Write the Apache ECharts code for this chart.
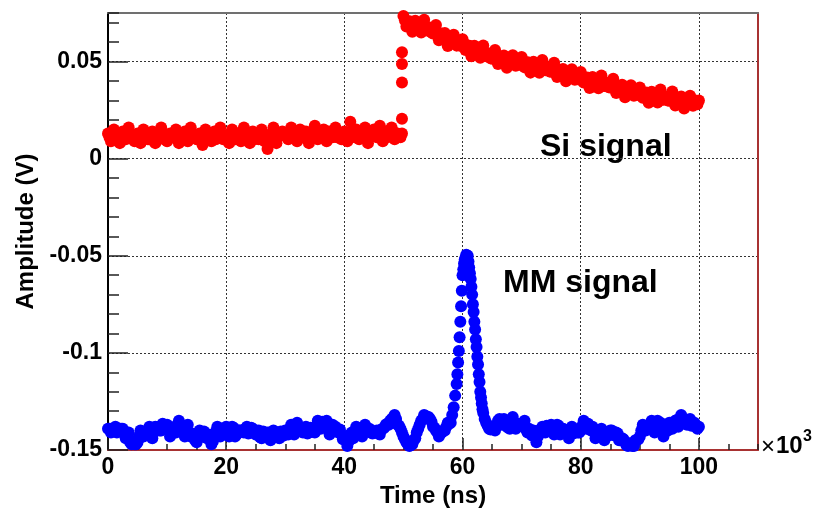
<!DOCTYPE html>
<html><head><meta charset="utf-8">
<script src="https://cdn.jsdelivr.net/npm/echarts@6/dist/echarts.min.js"></script>
<style>html,body{margin:0;padding:0;background:#fff}#c{width:821px;height:513px}</style>
</head><body><div id="c"></div>
<script>
// sample step of the waveforms, in units of 10^3 ns
const sampleStep = 0.5;

// Si signal amplitude (V), samples at t = 0, 0.5, ... 100 (x10^3 ns)
const siAmp = [
 0.013,0.009,0.015,0.011,0.008,0.014,0.010,0.016,0.012,0.009,0.013,0.008,0.015,0.011,0.010,0.014,0.008,0.012,0.016,0.010,
 0.009,0.013,0.011,0.015,0.008,0.012,0.014,0.009,0.016,0.011,0.010,0.013,0.007,0.015,0.012,0.009,0.014,0.011,0.016,0.010,
 0.012,0.008,0.015,0.010,0.013,0.009,0.016,0.011,0.008,0.014,0.012,0.010,0.015,0.009,0.005,0.011,0.016,0.008,0.012,0.014,
 0.013,0.010,0.016,0.012,0.009,0.015,0.011,0.014,0.008,0.013,0.017,0.010,0.012,0.015,0.009,0.014,0.011,0.016,0.012,0.010,
 0.014,0.009,0.019,0.012,0.015,0.010,0.013,0.016,0.008,0.012,0.015,0.011,0.017,0.009,0.014,0.012,0.016,0.010,0.013,0.011,
 0.0735,0.0681,0.0707,0.0654,0.0710,0.0685,0.0650,0.0715,0.0660,0.0663,
 0.0645,0.0688,0.0610,0.0633,0.0647,0.0580,0.0624,0.0638,0.0582,0.0594,
 0.0615,0.0559,0.0583,0.0527,0.0581,0.0555,0.0519,0.0583,0.0527,0.0530,
 0.0514,0.0560,0.0487,0.0514,0.0531,0.0468,0.0515,0.0532,0.0479,0.0496,
 0.0523,0.0470,0.0496,0.0443,0.0499,0.0475,0.0442,0.0508,0.0455,0.0461,
 0.0448,0.0494,0.0420,0.0446,0.0462,0.0398,0.0444,0.0460,0.0406,0.0421,
 0.0446,0.0392,0.0418,0.0364,0.0420,0.0396,0.0362,0.0428,0.0374,0.0380,
 0.0366,0.0412,0.0338,0.0364,0.0380,0.0316,0.0362,0.0378,0.0324,0.0340,
 0.0367,0.0314,0.0341,0.0288,0.0345,0.0322,0.0289,0.0356,0.0303,0.0310,
 0.0298,0.0346,0.0274,0.0302,0.0320,0.0258,0.0306,0.0324,0.0272,0.0290,
 0.0300
];
// Si signal, in-between samples at t = 0.25, 0.75, ... 99.75
const siAmpMid = [
 0.011,0.012,0.010,0.013,0.011,0.012,0.013,0.011,0.010,0.012,0.011,0.013,0.012,0.010,0.012,0.011,0.013,0.012,0.011,0.012,
 0.012,0.011,0.013,0.010,0.012,0.011,0.012,0.013,0.011,0.012,0.010,0.012,0.011,0.013,0.011,0.012,0.010,0.013,0.012,0.011,
 0.011,0.012,0.010,0.013,0.011,0.012,0.011,0.013,0.012,0.010,0.012,0.011,0.013,0.011,0.012,0.010,0.012,0.011,0.013,0.012,
 0.012,0.013,0.011,0.012,0.014,0.011,0.013,0.012,0.011,0.013,0.012,0.014,0.012,0.011,0.013,0.012,0.014,0.011,0.013,0.012,
 0.013,0.012,0.014,0.011,0.013,0.012,0.014,0.012,0.011,0.013,0.012,0.014,0.012,0.013,0.011,0.014,0.012,0.013,0.012,0.013,
 0.0713,0.0689,0.0705,0.0682,0.0697,0.0672,0.0687,0.0662,0.0676,0.0650,
 0.0661,0.0634,0.0646,0.0620,0.0633,0.0607,0.0621,0.0595,0.0608,0.0580,
 0.0592,0.0566,0.0580,0.0554,0.0568,0.0542,0.0556,0.0530,0.0543,0.0517,
 0.0532,0.0508,0.0525,0.0502,0.0519,0.0496,0.0513,0.0490,0.0507,0.0484,
 0.0501,0.0478,0.0494,0.0471,0.0487,0.0463,0.0480,0.0456,0.0473,0.0449,
 0.0466,0.0442,0.0458,0.0434,0.0450,0.0426,0.0442,0.0418,0.0433,0.0408,
 0.0424,0.0400,0.0416,0.0392,0.0408,0.0384,0.0400,0.0376,0.0392,0.0368,
 0.0384,0.0360,0.0376,0.0352,0.0368,0.0344,0.0360,0.0336,0.0352,0.0328,
 0.0345,0.0322,0.0339,0.0316,0.0333,0.0310,0.0327,0.0304,0.0321,0.0299,
 0.0317,0.0295,0.0313,0.0291,0.0309,0.0287,0.0305,0.0283,0.0301,0.0280
];
// points on the fast rising edge of the Si signal
const siRiseTime = [49.75, 49.75, 49.75, 49.75];
const siRiseAmp  = [0.0205, 0.0392, 0.0487, 0.0548];

// MM signal amplitude (V), samples at t = 0, 0.5, ... 100 (x10^3 ns)
const mmAmp = [
 -0.139,-0.141,-0.139,-0.141,-0.139,-0.139,-0.144,-0.141,-0.147,-0.147,
 -0.146,-0.140,-0.143,-0.142,-0.138,-0.144,-0.138,-0.138,-0.140,-0.137,
 -0.137,-0.143,-0.139,-0.141,-0.135,-0.139,-0.143,-0.137,-0.143,-0.143,
 -0.146,-0.140,-0.143,-0.142,-0.142,-0.147,-0.142,-0.138,-0.143,-0.139,
 -0.138,-0.143,-0.138,-0.143,-0.140,-0.140,-0.141,-0.138,-0.141,-0.139,
 -0.142,-0.140,-0.144,-0.141,-0.141,-0.145,-0.140,-0.141,-0.144,-0.141,
 -0.140,-0.142,-0.137,-0.142,-0.136,-0.140,-0.141,-0.138,-0.141,-0.139,
 -0.141,-0.135,-0.139,-0.136,-0.135,-0.142,-0.137,-0.138,-0.141,-0.142,
 -0.143,-0.148,-0.142,-0.144,-0.138,-0.139,-0.143,-0.137,-0.140,-0.141,
 -0.141,-0.140,-0.142,-0.139,-0.137,-0.137,-0.134,-0.132,-0.137,-0.139,
 -0.143,-0.146,-0.148,-0.147,-0.144,-0.139,-0.135,-0.132,-0.133,-0.134,
 -0.138,-0.140,-0.143,-0.141,-0.140,-0.136,-0.136,-0.128,-0.116,-0.092,
 -0.060,-0.051,-0.053,-0.066,-0.084,-0.102,-0.120,-0.131,-0.136,-0.139,
 -0.138,-0.140,-0.135,-0.137,-0.134,-0.138,-0.139,-0.133,-0.139,-0.137,
 -0.137,-0.135,-0.141,-0.141,-0.140,-0.146,-0.140,-0.138,-0.141,-0.138,
 -0.137,-0.142,-0.137,-0.142,-0.139,-0.140,-0.144,-0.138,-0.141,-0.141,
 -0.140,-0.135,-0.139,-0.138,-0.138,-0.144,-0.141,-0.139,-0.145,-0.142,
 -0.140,-0.142,-0.141,-0.145,-0.144,-0.146,-0.148,-0.147,-0.148,-0.145,
 -0.143,-0.137,-0.140,-0.139,-0.135,-0.141,-0.135,-0.136,-0.143,-0.140,
 -0.136,-0.139,-0.135,-0.138,-0.132,-0.136,-0.137,-0.134,-0.137,-0.138,
 -0.138
];
// MM signal, in-between samples at t = 0.25, 0.75, ... 99.75
const mmAmpMid = [
 -0.1390,-0.1405,-0.1380,-0.1405,-0.1390,-0.1415,-0.1420,-0.1460,-0.1455,-0.1470,
 -0.1430,-0.1430,-0.1405,-0.1420,-0.1395,-0.1410,-0.1385,-0.1400,-0.1365,-0.1390,
 -0.1390,-0.1415,-0.1380,-0.1385,-0.1370,-0.1410,-0.1395,-0.1420,-0.1415,-0.1450,
 -0.1430,-0.1430,-0.1405,-0.1440,-0.1440,-0.1455,-0.1405,-0.1415,-0.1390,-0.1405,
 -0.1395,-0.1410,-0.1385,-0.1420,-0.1400,-0.1405,-0.1390,-0.1415,-0.1385,-0.1410,
 -0.1410,-0.1435,-0.1405,-0.1430,-0.1415,-0.1425,-0.1410,-0.1435,-0.1405,-0.1425,
 -0.1400,-0.1400,-0.1375,-0.1395,-0.1380,-0.1405,-0.1390,-0.1415,-0.1385,-0.1405,
 -0.1380,-0.1385,-0.1355,-0.1375,-0.1370,-0.1395,-0.1380,-0.1405,-0.1395,-0.1445,
 -0.1445,-0.1455,-0.1410,-0.1415,-0.1385,-0.1410,-0.1395,-0.1405,-0.1390,-0.1415,
 -0.1405,-0.1415,-0.1395,-0.1385,-0.1365,-0.1350,-0.1335,-0.1340,-0.1375,-0.1410,
 -0.1445,-0.1470,-0.1475,-0.1450,-0.1410,-0.1370,-0.1340,-0.1325,-0.1330,-0.1355,
 -0.1385,-0.1410,-0.1415,-0.1400,-0.1380,-0.1365,-0.1320,-0.1220,-0.1050,-0.0760,
 -0.0540,-0.0500,-0.0590,-0.0750,-0.0930,-0.1110,-0.1260,-0.1340,-0.1375,-0.1395,
 -0.1380,-0.1380,-0.1340,-0.1360,-0.1360,-0.1385,-0.1355,-0.1380,-0.1365,-0.1375,
 -0.1360,-0.1395,-0.1390,-0.1425,-0.1415,-0.1430,-0.1395,-0.1405,-0.1375,-0.1395,
 -0.1385,-0.1400,-0.1375,-0.1410,-0.1395,-0.1420,-0.1405,-0.1415,-0.1395,-0.1410,
 -0.1375,-0.1385,-0.1365,-0.1400,-0.1395,-0.1425,-0.1405,-0.1430,-0.1415,-0.1425,
 -0.1400,-0.1425,-0.1415,-0.1450,-0.1445,-0.1475,-0.1465,-0.1480,-0.1450,-0.1445,
 -0.1400,-0.1400,-0.1375,-0.1390,-0.1365,-0.1380,-0.1360,-0.1405,-0.1395,-0.1400,
 -0.1365,-0.1375,-0.1345,-0.1355,-0.1340,-0.1365,-0.1350,-0.1375,-0.1360,-0.1390
];
// extra fine samples on the steep edges of the MM pulse
const mmPeakTime = [59.125, 59.375, 59.625, 59.875, 60.125, 60.375, 60.625, 60.875,
                    61.125, 61.375, 61.625, 61.875, 62.125, 62.375, 62.625, 62.875, 63.125, 63.375];
const mmPeakAmp  = [-0.111, -0.099, -0.084, -0.068, -0.057, -0.052, -0.0495, -0.050,
                    -0.056, -0.062, -0.070, -0.079, -0.088, -0.097, -0.106, -0.115, -0.123, -0.129];

const seriesNames = ['Si signal', 'MM signal'];
const xTitle = 'Time (ns)';
const yTitle = 'Amplitude (V)';

const FONT = '"Liberation Sans", Arial, Helvetica, sans-serif';
function samples(main, mid) {
  const out = [];
  main.forEach((v, i) => out.push([i * sampleStep, v]));
  mid.forEach((v, i) => out.push([(i + 0.5) * sampleStep, v]));
  return out;
}
const siData = samples(siAmp, siAmpMid).concat(siRiseTime.map((t, i) => [t, siRiseAmp[i]]));
const mmData = samples(mmAmp, mmAmpMid).concat(mmPeakTime.map((t, i) => [t, mmPeakAmp[i]]));

const chart = echarts.init(document.getElementById('c'), null, {renderer: 'canvas'});
const tickStyle = {color: '#222', width: 1.5};
const gridLine = {show: true, lineStyle: {color: '#333', type: [2, 2], width: 1}};
const labelBase = {fontFamily: FONT, fontWeight: 'bold', color: '#000'};

chart.setOption({
  animation: false,
  backgroundColor: '#fff',
  grid: {left: 108, top: 13, right: 63, bottom: 61, containLabel: false},
  xAxis: [
    {type: 'value', min: 0, max: 110, interval: 20, position: 'bottom',
     name: xTitle, nameLocation: 'middle', nameGap: 34,
     nameTextStyle: Object.assign({fontSize: 24}, labelBase),
     axisLine: {show: true, onZero: false, lineStyle: {color: '#a83232', width: 2}},
     axisTick: {show: true, inside: true, length: 12, lineStyle: tickStyle},
     axisLabel: Object.assign({margin: 6, fontSize: 23, showMaxLabel: false}, labelBase),
     splitLine: gridLine},
    {type: 'value', min: 0, max: 110, interval: 5, position: 'bottom',
     axisLine: {show: false, onZero: false},
     axisTick: {show: true, inside: true, length: 6, lineStyle: tickStyle},
     axisLabel: {show: false}, splitLine: {show: false}},
    {type: 'value', min: 0, max: 110, position: 'top',
     axisLine: {show: true, onZero: false, lineStyle: {color: '#707070', width: 2}},
     axisTick: {show: false}, axisLabel: {show: false}, splitLine: {show: false}}
  ],
  yAxis: [
    {type: 'value', min: -0.15, max: 0.075, interval: 0.05, position: 'left',
     name: yTitle, nameLocation: 'middle', nameGap: 66, nameRotate: 90,
     nameTextStyle: Object.assign({fontSize: 24}, labelBase),
     axisLine: {show: true, onZero: false, lineStyle: {color: '#000', width: 2}},
     axisTick: {show: true, inside: true, length: 20, lineStyle: tickStyle},
     axisLabel: Object.assign({margin: 6, fontSize: 23, showMaxLabel: false}, labelBase),
     splitLine: gridLine},
    {type: 'value', min: -0.15, max: 0.075, interval: 0.01, position: 'left',
     axisLine: {show: false, onZero: false},
     axisTick: {show: true, inside: true, length: 11, lineStyle: tickStyle},
     axisLabel: {show: false}, splitLine: {show: false}},
    {type: 'value', min: -0.15, max: 0.075, position: 'right',
     axisLine: {show: true, onZero: false, lineStyle: {color: '#a83232', width: 2}},
     axisTick: {show: false}, axisLabel: {show: false}, splitLine: {show: false}}
  ],
  series: [
    {type: 'scatter', name: seriesNames[0], data: siData, xAxisIndex: 0, yAxisIndex: 0, large: false,
     symbol: 'circle', symbolSize: 12, clip: false, silent: true, itemStyle: {color: '#ff0000', opacity: 1}},
    {type: 'scatter', name: seriesNames[1], data: mmData, xAxisIndex: 0, yAxisIndex: 0, large: false,
     symbol: 'circle', symbolSize: 12, clip: false, silent: true, itemStyle: {color: '#0000ff', opacity: 1}}
  ],
  graphic: [
    {type: 'text', x: 540, y: 147, silent: true,
     style: {text: seriesNames[0], fontFamily: FONT, fontWeight: 'bold', fontSize: 32, fill: '#000', align: 'left', verticalAlign: 'middle'}},
    {type: 'text', x: 503, y: 283, silent: true,
     style: {text: seriesNames[1], fontFamily: FONT, fontWeight: 'bold', fontSize: 32, fill: '#000', align: 'left', verticalAlign: 'middle'}},
    {type: 'text', x: 761, y: 447, silent: true,
     style: {text: '\u00d7', fontFamily: FONT, fontWeight: 'normal', fontSize: 24, fill: '#000', align: 'left', verticalAlign: 'middle'}},
    {type: 'text', x: 776, y: 446, silent: true,
     style: {text: '10', fontFamily: FONT, fontWeight: 'bold', fontSize: 24, fill: '#000', align: 'left', verticalAlign: 'middle'}},
    {type: 'text', x: 803, y: 437, silent: true,
     style: {text: '3', fontFamily: FONT, fontWeight: 'bold', fontSize: 16, fill: '#000', align: 'left', verticalAlign: 'middle'}}
  ]
});
</script>
</body></html>
